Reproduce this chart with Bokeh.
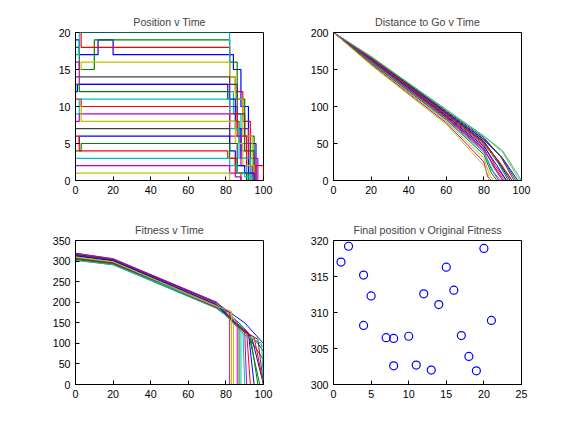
from bokeh.plotting import figure
from bokeh.layouts import gridplot
from bokeh.models import Range1d, FixedTicker
from bokeh.embed import file_html
from bokeh.resources import INLINE

colors = ["#0000ff", "#008000", "#ff0000", "#00bfbf", "#bf00bf", "#bfbf00", "#404040"]

# Position v Time (step series)
pos_t = [
    [0, 2, 12, 20, 72, 84, 88, 92, 96],
    [0, 2, 10, 72, 82, 86, 90, 95],
    [0, 3, 12, 72, 82, 85, 89, 93, 100],
    [0, 2, 72, 82, 84, 88, 91],
    [0, 2, 10, 73, 82, 86, 92, 97],
    [0, 3, 13, 82, 85, 89, 94],
    [0, 2, 72, 82, 86, 90, 95],
    [0, 1, 11, 72, 81, 85, 88, 92],
    [0, 2, 12, 72, 82, 87, 93],
    [0, 3, 14, 73, 82, 86, 91, 96],
    [0, 2, 11, 72, 82, 87, 93],
    [0, 2, 13, 72, 82, 88, 94],
    [0, 3, 12, 72, 81, 85, 89, 95],
    [0, 2, 15, 72, 82, 86, 91],
    [0, 2, 10, 72, 82, 85, 90, 95],
    [0, 3, 12, 72, 82, 86, 92],
    [0, 2, 11, 73, 81, 85, 88],
    [0, 2, 12, 72, 82, 86, 90, 94],
    [0, 1, 12, 72, 82, 85, 88],
    [0, 2, 12, 72, 82, 84, 87],
]
pos_y = [
    [19, 17, 19, 17, 17, 15, 10, 5, 0],
    [18, 15, 19, 19, 16, 11, 6, 0],
    [20, 18, 18, 18, 14, 12, 8, 2, 0],
    [17, 20, 20, 12, 9, 4, 0],
    [16, 13, 13, 13, 10, 7, 3, 0],
    [15, 16, 16, 14, 11, 6, 0],
    [14, 14, 14, 13, 9, 4, 0],
    [12, 13, 13, 13, 11, 7, 3, 0],
    [13, 12, 12, 12, 8, 5, 0],
    [11, 10, 10, 10, 9, 6, 2, 0],
    [9, 11, 11, 11, 7, 3, 0],
    [8, 9, 9, 9, 6, 2, 0],
    [10, 8, 8, 8, 8, 5, 2, 0],
    [7, 7, 7, 7, 5, 1, 0],
    [5, 6, 6, 6, 4, 2, 1, 0],
    [4, 5, 5, 5, 3, 1, 0],
    [6, 4, 4, 4, 3, 1, 0],
    [3, 3, 3, 3, 2, 1, 0.5, 0],
    [2, 2, 2, 2, 1, 0.5, 0],
    [1, 1, 1, 1, 0, 0, 0],
]

# Distance to Go v Time
dist_t = [
    [0, 20, 60, 80, 90, 98], [0, 20, 60, 80, 88, 95], [0, 20, 60, 80, 86, 92],
    [0, 20, 60, 80, 85, 90], [0, 20, 60, 80, 84, 88], [0, 20, 60, 80, 83, 85],
    [0, 20, 60, 80, 89, 96], [0, 20, 60, 80, 87, 94], [0, 20, 60, 80, 88, 93],
    [0, 20, 60, 80, 86, 91], [0, 20, 60, 80, 85, 89], [0, 20, 60, 80, 82, 84],
    [0, 20, 60, 80, 90, 99], [0, 20, 60, 80, 89, 97], [0, 20, 60, 80, 87, 92],
    [0, 20, 60, 80, 84, 87], [0, 20, 60, 80, 88, 95], [0, 20, 60, 80, 90, 100],
    [0, 20, 60, 80, 86, 90], [0, 20, 60, 80, 83, 82],
]
dist_y = [
    [200, 166, 92, 55, 30, 0], [200, 164, 90, 52, 25, 0], [200, 163, 88, 48, 20, 0],
    [200, 162, 86, 44, 18, 0], [200, 160, 84, 40, 15, 0], [200, 158, 80, 30, 8, 0],
    [200, 167, 94, 58, 32, 0], [200, 165, 91, 53, 28, 0], [200, 164, 89, 50, 22, 0],
    [200, 161, 85, 42, 17, 0], [200, 160, 83, 38, 12, 0], [200, 157, 78, 25, 5, 0],
    [200, 168, 95, 60, 38, 0], [200, 166, 93, 56, 33, 0], [200, 163, 87, 46, 20, 0],
    [200, 159, 82, 35, 10, 0], [200, 165, 90, 51, 26, 0], [200, 167, 96, 60, 40, 0],
    [200, 162, 86, 43, 16, 0], [200, 156, 76, 20, 3, 0],
]

# Fitness v Time
fit_t = [
    [0, 20, 75, 90, 96, 100], [0, 20, 75, 88, 92, 98], [0, 20, 75, 86, 90, 100],
    [0, 20, 75, 85, 88, 88], [0, 20, 75, 84, 86, 86], [0, 20, 75, 83, 84, 84],
    [0, 20, 75, 90, 97, 100], [0, 20, 75, 88, 94, 100], [0, 20, 75, 88, 93, 97],
    [0, 20, 75, 86, 91, 93], [0, 20, 75, 85, 89, 90], [0, 20, 75, 82, 82, 82],
    [0, 20, 75, 90, 98, 100], [0, 20, 75, 89, 97, 100], [0, 20, 75, 87, 92, 95],
    [0, 20, 75, 84, 87, 87], [0, 20, 75, 88, 95, 100], [0, 20, 75, 90, 99, 100],
    [0, 20, 75, 86, 90, 91], [0, 20, 75, 83, 83, 83],
]
fit_y = [
    [317, 303, 198, 150, 120, 100], [319, 305, 200, 145, 125, 0], [315, 302, 195, 140, 130, 60],
    [312, 300, 192, 150, 140, 0], [308, 296, 188, 160, 150, 0], [306, 295, 186, 170, 160, 0],
    [306, 295, 190, 130, 100, 80], [307, 296, 191, 135, 110, 0], [303, 292, 186, 140, 120, 0],
    [303, 292, 187, 145, 130, 0], [302, 291, 185, 150, 140, 0], [313, 300, 192, 175, 175, 0],
    [311, 299, 193, 125, 100, 90], [316, 304, 199, 130, 110, 0], [313, 301, 194, 140, 125, 0],
    [307, 295, 189, 155, 145, 0], [304, 293, 188, 135, 115, 0], [302, 291, 190, 120, 100, 0],
    [319, 306, 200, 145, 130, 0], [309, 298, 190, 178, 178, 0],
]

# Final position v Original Fitness
final_pos = [1, 2, 4, 5, 4, 7, 8, 10, 8, 11, 13, 12, 14, 15, 16, 17, 18, 19, 20, 21]
orig_fit = [317, 319.2, 315.2, 312.3, 308.2, 306.5, 306.4, 306.7, 302.6, 302.7,
            302.0, 312.6, 311.1, 316.3, 313.1, 306.8, 303.9, 301.9, 318.9, 308.9]


def mk(title, xr, yr, xt, yt, bl, br, bt, bb, h):
    p = figure(width=280, height=h, output_backend="svg", toolbar_location=None,
               x_range=Range1d(*xr), y_range=Range1d(*yr))
    p.min_border_left, p.min_border_right = bl, br
    p.min_border_top, p.min_border_bottom = bt, bb
    p.title.text = title
    p.title.align = "center"
    p.title.text_font_size = "8pt"
    p.title.text_font_style = "normal"
    p.title.text_font = "Liberation Sans"
    p.xgrid.visible = False
    p.ygrid.visible = False
    p.outline_line_color = "black"
    for ax in (p.xaxis[0], p.yaxis[0]):
        ax.major_label_text_font_size = "8pt"
        ax.major_label_text_font = "Liberation Sans"
        ax.major_label_text_color = "black"
        ax.minor_tick_line_color = None
        ax.major_tick_in = 4
        ax.major_tick_out = 0
        ax.axis_line_color = "black"
    p.xaxis.ticker = FixedTicker(ticks=xt)
    p.yaxis.ticker = FixedTicker(ticks=yt)
    return p


p1 = mk("Position v Time", (0, 100), (0, 20), [0, 20, 40, 60, 80, 100],
        [0, 5, 10, 15, 20], 75, 17, 32, 28, 208)
for i, (t, y) in enumerate(zip(pos_t, pos_y)):
    p1.step(t, y, mode="after", line_color=colors[i % 7], line_width=1.2)

p2 = mk("Distance to Go v Time", (0, 100), (0, 200), [0, 20, 40, 60, 80, 100],
        [0, 50, 100, 150, 200], 53, 39, 32, 28, 208)
for i, (t, y) in enumerate(zip(dist_t, dist_y)):
    p2.line(t, y, line_color=colors[i % 7], line_width=1)

p3 = mk("Fitness v Time", (0, 100), (0, 350), [0, 50, 100, 150, 200, 250, 300, 350][:1] + [20, 40, 60, 80, 100],
        [0, 50, 100, 150, 200, 250, 300, 350], 75, 17, 32, 32, 208)
for i, (t, y) in enumerate(zip(fit_t, fit_y)):
    p3.line(t, y, line_color=colors[i % 7], line_width=1)

p4 = mk("Final position v Original Fitness", (0, 25), (300, 320), [0, 5, 10, 15, 20, 25],
        [300, 305, 310, 315, 320], 53, 39, 32, 32, 208)
p4.scatter(final_pos, orig_fit, size=8, fill_color=None, line_color="blue", line_width=1.2)

g = gridplot([[p1, p2], [p3, p4]], toolbar_location=None)
open("out.html", "w").write(file_html(g, INLINE))
